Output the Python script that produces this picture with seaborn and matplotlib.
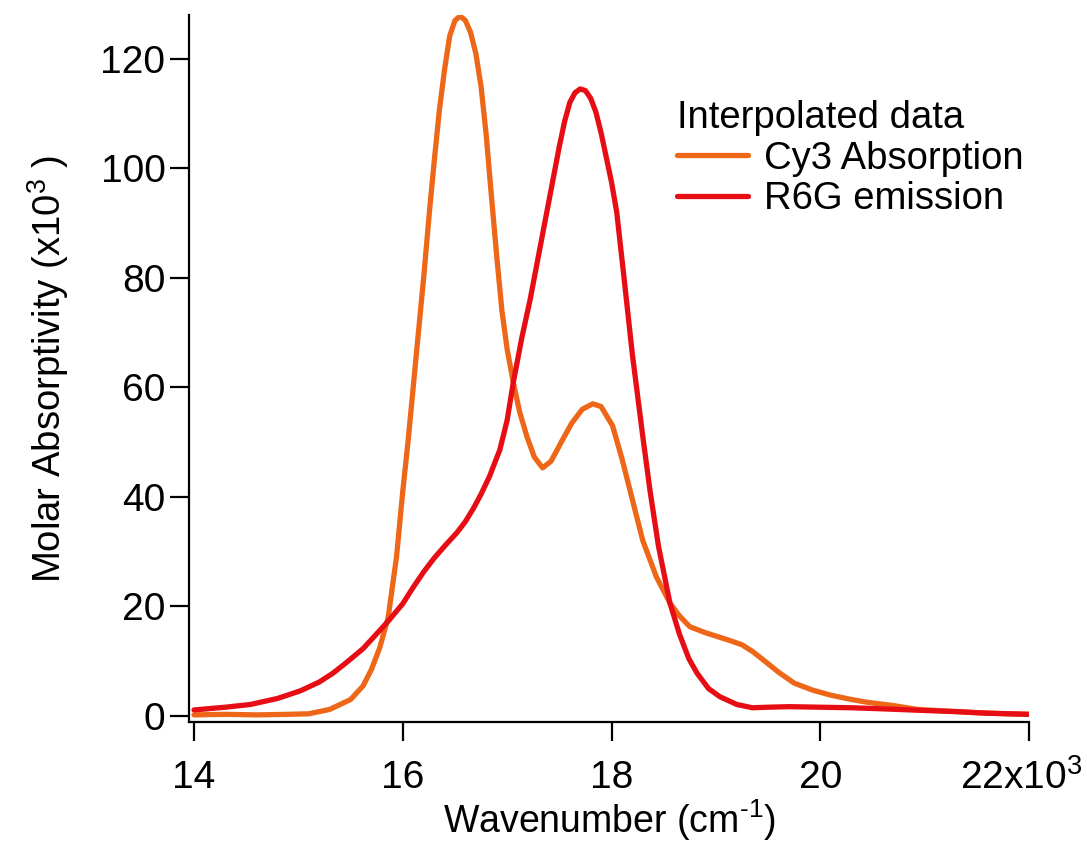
import matplotlib
matplotlib.use("Agg")
import matplotlib.pyplot as plt
import matplotlib.transforms as mtrans
import seaborn as sns
import pandas as pd
from matplotlib.lines import Line2D

# ---- data (wavenumber in 10^3 cm^-1, molar absorptivity in 10^3) ----
cy3_x = [14.0, 14.3, 14.6, 14.9, 15.1, 15.3, 15.5, 15.62, 15.7, 15.78, 15.86, 15.94,
         16.0, 16.05, 16.1, 16.15, 16.2, 16.26, 16.3, 16.35, 16.4, 16.45, 16.5, 16.55,
         16.6, 16.65, 16.7, 16.75, 16.8, 16.84, 16.9, 16.95, 17.0, 17.06, 17.12, 17.19,
         17.26, 17.34, 17.42, 17.53, 17.62, 17.72, 17.82, 17.9, 18.01, 18.1, 18.2, 18.3,
         18.43, 18.56, 18.65, 18.75, 18.9, 19.0, 19.13, 19.25, 19.35, 19.45, 19.6, 19.75,
         19.93, 20.1, 20.3, 20.45, 20.7, 20.93, 21.2, 21.5, 21.8, 22.0]
cy3_y = [0.2, 0.3, 0.2, 0.3, 0.4, 1.2, 3.0, 5.5, 8.5, 12.5, 18.0, 29.0,
         41.0, 50.0, 60.0, 70.0, 80.0, 93.0, 101.0, 110.5, 118.0, 124.2, 127.0, 127.8,
         127.0, 124.8, 121.0, 115.0, 106.0, 97.0, 84.0, 74.0, 67.0, 60.8, 55.5, 51.0,
         47.3, 45.3, 46.5, 50.4, 53.5, 56.0, 57.0, 56.5, 53.0, 47.0, 39.5, 32.0,
         25.4, 20.6, 18.3, 16.3, 15.2, 14.6, 13.8, 13.0, 11.8, 10.3, 8.0, 6.0,
         4.7, 3.8, 3.0, 2.5, 1.9, 1.2, 0.9, 0.6, 0.4, 0.3]

r6g_x = [14.0, 14.3, 14.54, 14.8, 15.02, 15.2, 15.33, 15.45, 15.62, 15.75, 15.86, 16.0,
         16.1, 16.2, 16.3, 16.4, 16.52, 16.6, 16.68, 16.75, 16.83, 16.93, 17.0, 17.06,
         17.14, 17.22, 17.3, 17.41, 17.5, 17.55, 17.6, 17.65, 17.7, 17.75, 17.8, 17.85,
         17.9, 17.95, 18.0, 18.05, 18.12, 18.2, 18.3, 18.37, 18.45, 18.56, 18.65, 18.74,
         18.82, 18.93, 19.04, 19.2, 19.35, 19.5, 19.7, 20.0, 20.3, 20.6, 21.0, 21.3,
         21.6, 22.0]
r6g_y = [1.1, 1.6, 2.1, 3.2, 4.6, 6.2, 7.8, 9.6, 12.3, 15.0, 17.3, 20.5,
         23.5, 26.3, 28.8, 31.0, 33.5, 35.5, 38.0, 40.5, 43.7, 48.6, 54.0, 61.0,
         69.0, 76.0, 84.0, 95.0, 104.0, 108.5, 112.0, 113.8, 114.5, 114.2, 112.8, 110.3,
         106.5, 102.0, 97.5, 92.0, 80.0, 66.0, 51.0, 41.0, 31.0, 20.6, 15.0, 10.5,
         7.8, 5.0, 3.5, 2.1, 1.5, 1.6, 1.7, 1.6, 1.5, 1.3, 1.0, 0.8,
         0.5, 0.3]

series_names = ["Cy3 Absorption", "R6G emission"]
series_colors = ["#EE6718", "#E60E14"]
x_ticks = [14, 16, 18, 20, 22]
x_tick_labels = ["14", "16", "18", "20", "22x10$^{3}$"]
y_ticks = [0, 20, 40, 60, 80, 100, 120]

sns.set_theme(style="ticks")
plt.rcParams["font.family"] = ["Liberation Sans", "DejaVu Sans"]
plt.rcParams["mathtext.fontset"] = "custom"
plt.rcParams["mathtext.rm"] = "Liberation Sans"
plt.rcParams["mathtext.it"] = "Liberation Sans"
plt.rcParams["axes.unicode_minus"] = False
plt.rcParams["text.color"] = "black"
plt.rcParams["axes.labelcolor"] = "black"

df = pd.concat([
    pd.DataFrame({"x": cy3_x, "y": cy3_y, "series": series_names[0]}),
    pd.DataFrame({"x": r6g_x, "y": r6g_y, "series": series_names[1]}),
], ignore_index=True)

fig = plt.figure(figsize=(10.87, 8.42), dpi=100)
ax = fig.add_axes([189 / 1087, 1 - 722 / 842, (1029 - 189) / 1087, (722 - 15) / 842])

sns.lineplot(data=df, x="x", y="y", hue="series", hue_order=series_names,
             palette=series_colors, sort=False, estimator=None, linewidth=3.8,
             ax=ax, legend=False)

ax.set_xlim(13.952, 22.0)
ax.set_ylim(-1.1, 128.0)
ax.set_xticks(x_ticks)
ax.set_xticklabels(x_tick_labels)
ax.set_yticks(y_ticks)
ax.tick_params(axis="both", direction="out", length=14, width=1.6, labelsize=28,
               colors="black")
ax.tick_params(axis="x", pad=13)
ax.tick_params(axis="y", pad=3)
# nudge the last x tick label (with its x10^3 multiplier) slightly left
last = ax.get_xticklabels()[-1]
last.set_transform(last.get_transform() +
                   mtrans.ScaledTranslation(-8 / 100, 0, fig.dpi_scale_trans))
for s in ["top", "right"]:
    ax.spines[s].set_visible(False)
for s in ["left", "bottom"]:
    ax.spines[s].set_linewidth(1.6)
    ax.spines[s].set_color("black")

ax.set_xlabel(r"Wavenumber (cm$^{\text{-1}}$)", fontsize=27, labelpad=0)
ax.set_ylabel("Molar Absorptivity (x10$^{3}$ )", fontsize=27.5, labelpad=21)

handles = [Line2D([], [], color=c, lw=3.8) for c in series_colors]
leg = ax.legend(handles, series_names, title="Interpolated data",
                loc="upper left", bbox_to_anchor=(677 / 1087, 1 - 100 / 842),
                bbox_transform=fig.transFigure, frameon=False, fontsize=27.5,
                title_fontsize=27.5, handlelength=1.85, handletextpad=0.42,
                labelspacing=0.12, borderpad=0, borderaxespad=0, alignment="left")

fig.savefig("out.png", dpi=100, facecolor="white")
